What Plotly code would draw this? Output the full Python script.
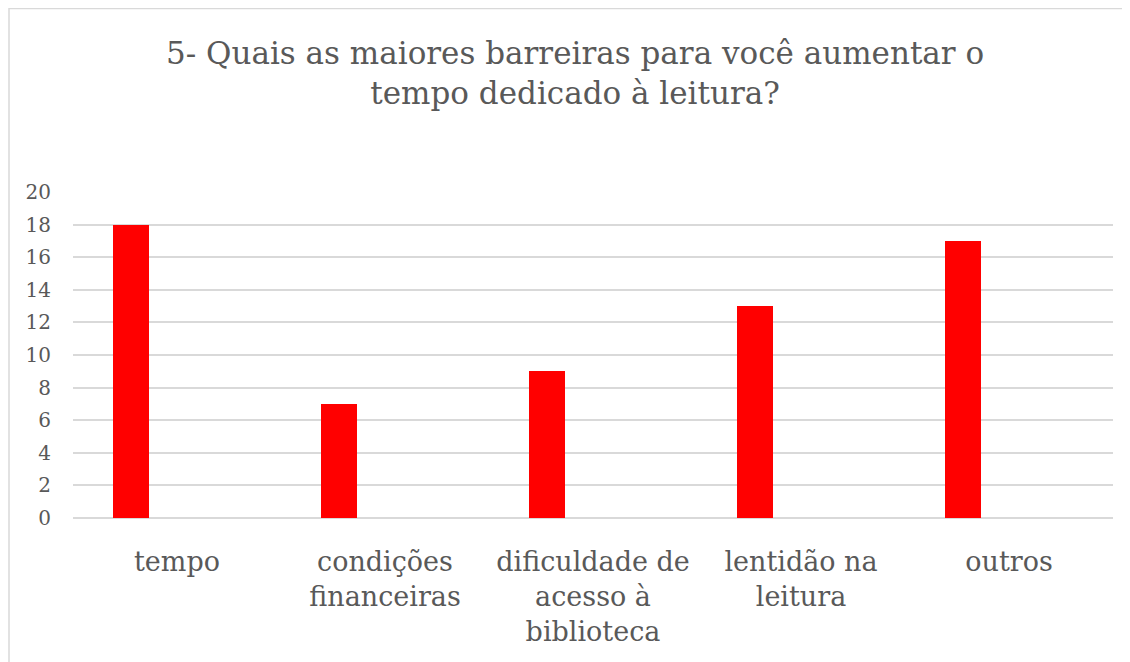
import plotly.graph_objects as go

categories = ["tempo", "condições<br>financeiras", "dificuldade de<br>acesso à<br>biblioteca",
              "lentidão na<br>leitura", "outros"]
values = [18, 7, 9, 13, 17]
y_ticks = [0, 2, 4, 6, 8, 10, 12, 14, 16, 18, 20]
title_text = "5- Quais as maiores barreiras para você aumentar o<br>tempo dedicado à leitura?"

FONT = "DejaVu Serif"
GRAY = "#595959"
GRID = "#d9d9d9"

W, H = 1122, 654
ML, MR, MT, MB = 65, 17, 184, 144
pw = W - ML - MR
ph = H - MT - MB

fig = go.Figure()
fig.add_trace(go.Bar(
    x=categories, y=values,
    marker=dict(color="#FF0000", line=dict(width=0)),
    width=0.173, offset=-0.308,
    showlegend=False,
))

# chart frame
fig.add_shape(type="rect", xref="paper", yref="paper",
              x0=(1 - ML) / pw, x1=1 + (MR + 20) / pw,
              y0=-(MB + 20) / ph, y1=1 + (MT - 0.5) / ph,
              line=dict(color=GRID, width=1.5), fillcolor="rgba(0,0,0,0)", layer="below")

fig.add_annotation(
    text=title_text, xref="paper", yref="paper",
    x=(567 - ML) / pw, xanchor="center",
    y=1 + (MT - 25) / ph, yanchor="top",
    showarrow=False, align="center",
    font=dict(family=FONT, size=31, color=GRAY),
)

fig.update_layout(
    width=W, height=H,
    margin=dict(l=ML, r=MR, t=MT, b=MB),
    paper_bgcolor="white", plot_bgcolor="white",
    font=dict(family=FONT, color=GRAY),
    bargap=0,
)
fig.update_xaxes(
    showline=False, showgrid=False, zeroline=False, ticks="",
    tickfont=dict(family=FONT, size=27, color=GRAY),
    ticklabelstandoff=25,
)
fig.update_yaxes(
    range=[0, 20], tickvals=y_ticks, showgrid=True, gridcolor=GRID, gridwidth=1.5,
    zeroline=True, zerolinecolor=GRID, zerolinewidth=1.5, showline=False, ticks="",
    tickfont=dict(family=FONT, size=20, color=GRAY),
    ticklabelstandoff=21,
)

fig.write_html("out.html")
